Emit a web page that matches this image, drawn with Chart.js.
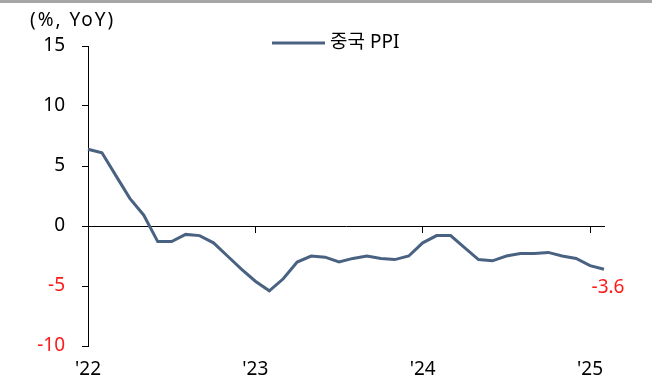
<!DOCTYPE html>
<html>
<head>
<meta charset="utf-8">
<script src="https://cdn.jsdelivr.net/npm/chart.js@4"></script>
<style>
  html, body { margin: 0; padding: 0; background: #fff; }
  #wrap { width: 652px; height: 389px; position: relative; }
</style>
</head>
<body>
<div id="wrap"><canvas id="c" width="652" height="389"></canvas></div>
<script>
// Monthly China PPI, % YoY (May 2022 – Jun 2025)
const months = [
  '2022-05','2022-06','2022-07','2022-08','2022-09','2022-10','2022-11','2022-12',
  '2023-01','2023-02','2023-03','2023-04','2023-05','2023-06','2023-07','2023-08',
  '2023-09','2023-10','2023-11','2023-12','2024-01','2024-02','2024-03','2024-04',
  '2024-05','2024-06','2024-07','2024-08','2024-09','2024-10','2024-11','2024-12',
  '2025-01','2025-02','2025-03','2025-04','2025-05','2025-06'
];
const ppi = [
  6.4, 6.1, 4.2, 2.3, 0.9, -1.3, -1.3, -0.7,
  -0.8, -1.4, -2.5, -3.6, -4.6, -5.4, -4.4, -3.0,
  -2.5, -2.6, -3.0, -2.7, -2.5, -2.7, -2.8, -2.5,
  -1.4, -0.8, -0.8, -1.8, -2.8, -2.9, -2.5, -2.3,
  -2.3, -2.2, -2.5, -2.7, -3.3, -3.6
];
const yearTicks = ["'22", "'23", "'24", "'25"];
const seriesName = '중국 PPI';
const unitLabel = '(%, YoY)';

const FONT = "'Noto Sans', 'Noto Sans CJK KR', sans-serif";
const FONT_SIZE = 19;
const LINE_COLOR = '#4a6282';
const RED = '#ff1a1a';

// Extra decorations: header rule, unit caption, legend and the end-value label
const decorations = {
  id: 'decorations',
  beforeDraw(chart) {
    const ctx = chart.ctx;
    ctx.save();
    ctx.fillStyle = '#a6a6a6';
    ctx.fillRect(0, 0, chart.width, 3);
    ctx.restore();
  },
  afterDraw(chart) {
    const ctx = chart.ctx;
    const area = chart.chartArea;
    ctx.save();
    ctx.font = FONT_SIZE + 'px ' + FONT;
    ctx.textBaseline = 'middle';

    // unit caption
    ctx.fillStyle = '#000';
    ctx.textAlign = 'left';
    ctx.letterSpacing = '2px';
    ctx.fillText(unitLabel, 30, 21);
    ctx.letterSpacing = '0px';

    // legend
    const ly = area.top - 3;
    const lx = area.left + 184;
    ctx.strokeStyle = LINE_COLOR;
    ctx.lineWidth = 3;
    ctx.beginPath();
    ctx.moveTo(lx, ly);
    ctx.lineTo(lx + 53, ly);
    ctx.stroke();
    ctx.fillStyle = '#000';
    ctx.fillText(chart.data.datasets[0].label, lx + 58, ly);

    // last value label
    const meta = chart.getDatasetMeta(0);
    const last = meta.data[meta.data.length - 1];
    const v = chart.data.datasets[0].data[meta.data.length - 1];
    ctx.fillStyle = RED;
    ctx.textAlign = 'center';
    ctx.fillText(v.toFixed(1), last.x + 4, last.y + 18);
    ctx.restore();
  }
};

new Chart(document.getElementById('c'), {
  type: 'line',
  data: {
    labels: months,
    datasets: [{
      label: seriesName,
      data: ppi,
      borderColor: LINE_COLOR,
      borderWidth: 3,
      pointRadius: 0,
      tension: 0,
      fill: false
    }]
  },
  options: {
    responsive: false,
    animation: false,
    devicePixelRatio: 1,
    layout: { padding: { top: 46, right: 48, bottom: 9, left: 0 } },
    plugins: { legend: { display: false }, tooltip: { enabled: false } },
    scales: {
      x: {
        type: 'category',
        offset: false,
        grid: { display: false, drawTicks: false },
        border: { display: false },
        ticks: {
          autoSkip: false,
          maxRotation: 0,
          padding: 12,
          color: '#000',
          font: { family: FONT, size: FONT_SIZE },
          callback: (val, i) => (i % 12 === 0 ? yearTicks[i / 12] : '')
        },
        afterFit: (s) => { s.height = 34; }
      },
      x0: {
        type: 'category',
        axis: 'x',
        position: { y: 0 },
        offset: false,
        grid: {
          display: true,
          drawOnChartArea: false,
          drawTicks: true,
          tickLength: 6,
          tickWidth: 1,
          tickColor: (c) => (c.index % 12 === 0 ? '#000' : 'rgba(0,0,0,0)')
        },
        border: { display: true, color: '#000', width: 1 },
        ticks: { display: false },
        afterFit: (s) => { s.height = 0; }
      },
      y: {
        min: -10,
        max: 15,
        ticks: {
          stepSize: 5,
          padding: 17,
          color: (c) => (c.tick.value < 0 ? RED : '#000'),
          font: { family: FONT, size: FONT_SIZE }
        },
        grid: { drawOnChartArea: false, tickLength: 6, tickColor: '#000' },
        border: { color: '#000', width: 1 },
        afterFit: (s) => { s.width = 88; }
      }
    }
  },
  plugins: [decorations]
});
</script>
</body>
</html>
